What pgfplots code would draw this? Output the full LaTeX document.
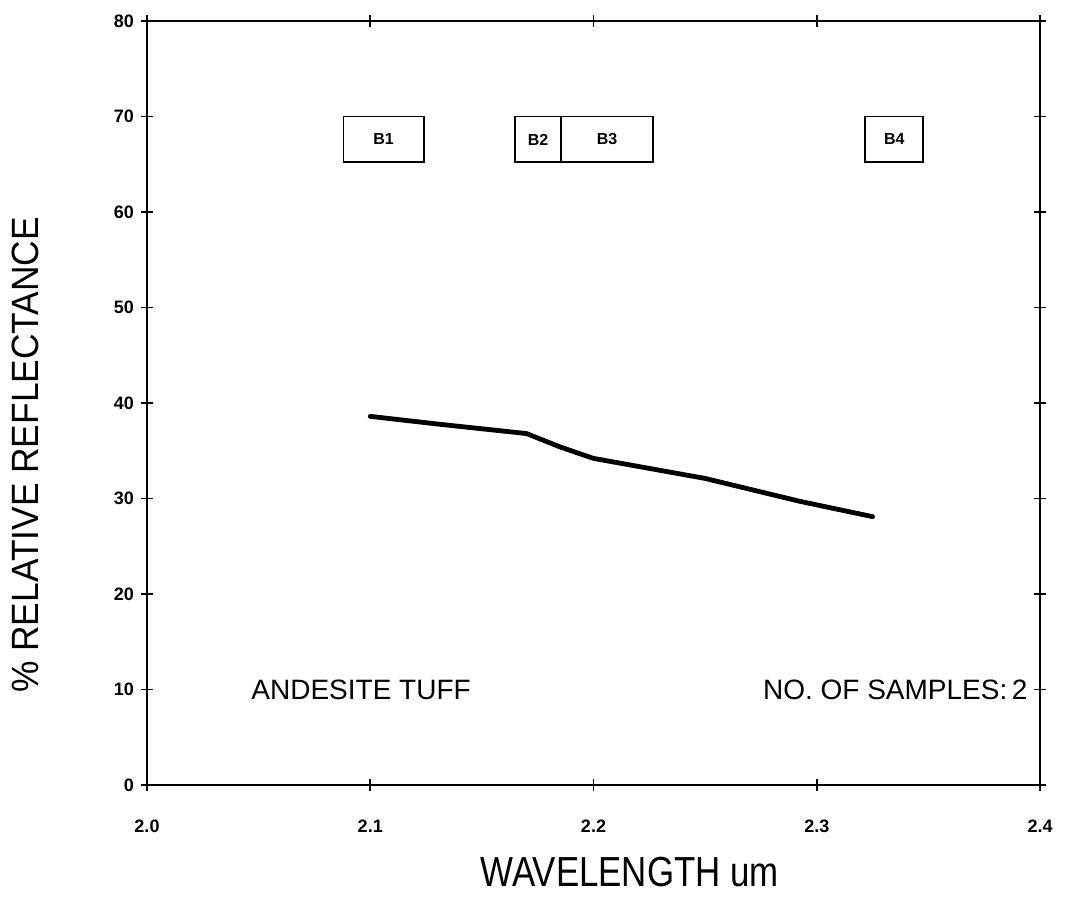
\documentclass[border=0pt]{standalone}
\usepackage{fontspec}
\setmainfont{Liberation Sans}
\usepackage{pgfplots}
\pgfplotsset{compat=1.18}
\begin{document}
\begin{tikzpicture}
\begin{axis}[
  scale only axis,
  width=446.5pt, height=382pt,
  xmin=2.0, xmax=2.4, ymin=0, ymax=80,
  xtick={2.0,2.1,2.2,2.3,2.4},
  ytick={0,10,...,80},
  /pgf/number format/assume math mode=true,
  xticklabel style={/pgf/number format/fixed,/pgf/number format/precision=1,/pgf/number format/fixed zerofill, font=\fontsize{9}{10}\selectfont\bfseries, yshift=-11pt},
  yticklabel style={font=\fontsize{9}{10}\selectfont\bfseries},
  tick align=center,
  major tick length=6pt,
  tick style={black, line width=0.8pt},
  axis line style={line width=1pt},
  xtick pos=both, ytick pos=both,
  xticklabel pos=lower, yticklabel pos=left,
  clip=false,
]
\addplot[black, line width=2.4pt, line cap=round, line join=round] coordinates {
  (2.100,38.6) (2.130,37.8) (2.170,36.8) (2.185,35.4) (2.200,34.2) (2.250,32.1) (2.2925,29.7) (2.325,28.1)
};
\draw[line width=0.9pt] (axis cs:2.088,65.2) rectangle (axis cs:2.124,70.0);
\draw[line width=0.9pt] (axis cs:2.165,65.2) rectangle (axis cs:2.1855,70.0);
\draw[line width=0.9pt] (axis cs:2.1855,65.2) rectangle (axis cs:2.2267,70.0);
\draw[line width=0.9pt] (axis cs:2.3217,65.2) rectangle (axis cs:2.3477,70.0);
\node[font=\fontsize{8}{9}\selectfont\bfseries] at (axis cs:2.106,67.6) {B1};
\node[font=\fontsize{8}{9}\selectfont\bfseries] at (axis cs:2.1752,67.6) {B2};
\node[font=\fontsize{8}{9}\selectfont\bfseries] at (axis cs:2.2061,67.6) {B3};
\node[font=\fontsize{8}{9}\selectfont\bfseries] at (axis cs:2.3347,67.6) {B4};
\node[font=\fontsize{14}{15}\selectfont] at (axis cs:2.0959,10) {ANDESITE TUFF};
\node[font=\fontsize{14}{15}\selectfont, anchor=east, inner sep=0pt] at (axis cs:2.3946,10) {NO. OF SAMPLES:\,2};
\coordinate (ll) at (rel axis cs:0,0);
\coordinate (ur) at (rel axis cs:1,1);
\coordinate (xl) at (axis cs:2.2162,0);
\coordinate (yl) at (rel axis cs:0,0.432);
\end{axis}
\node[font=\fontsize{21}{23}\selectfont, inner sep=0pt] at ([yshift=-43.5pt]xl) {\scalebox{0.83}[1]{WAVELENGTH um}};
\node[font=\fontsize{19}{21}\selectfont, rotate=90, inner sep=0pt] at ([xshift=-61pt]yl) {\scalebox{0.93}[1]{\% RELATIVE REFLECTANCE}};
\pgfresetboundingbox
\path ([xshift=-73.5pt,yshift=-56pt]ll) rectangle ([xshift=18.5pt,yshift=10.5pt]ur);
\end{tikzpicture}
\end{document}
